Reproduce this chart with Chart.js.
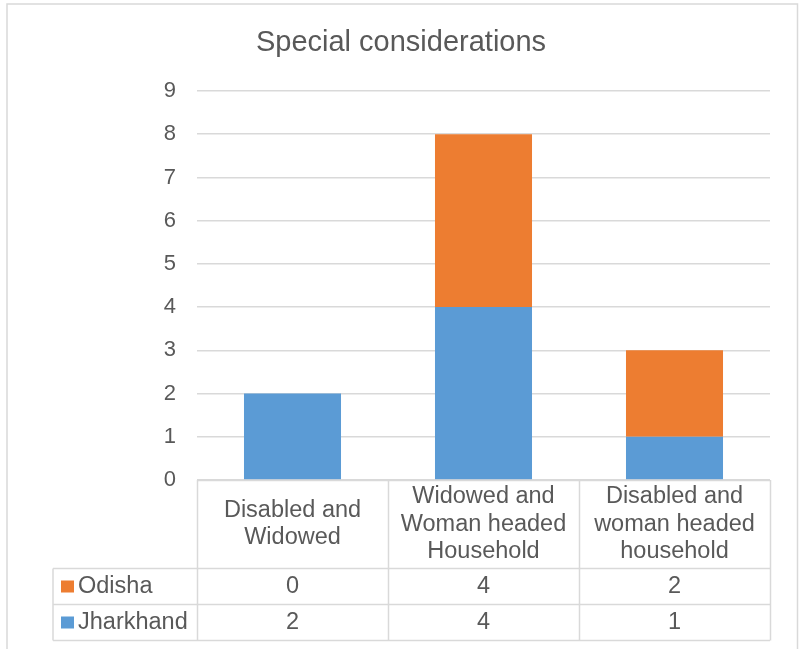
<!DOCTYPE html>
<html>
<head>
<meta charset="utf-8">
<style>
  html, body { margin: 0; padding: 0; background: #ffffff; }
  #wrap { width: 802px; height: 649px; position: relative; }
</style>
<script src="https://cdn.jsdelivr.net/npm/chart.js@4/dist/chart.umd.min.js"></script>
</head>
<body>
<div id="wrap"><canvas id="c" width="802" height="649"></canvas></div>
<script>
// Categories (multi-line headers shown in the data table under the plot)
const categories = [
  ['Disabled and', 'Widowed'],
  ['Widowed and', 'Woman headed', 'Household'],
  ['Disabled and', 'woman headed', 'household']
];
const jharkhand = [2, 4, 1];
const odisha = [0, 4, 2];
const yTicks = [0, 1, 2, 3, 4, 5, 6, 7, 8, 9];

const BLUE = '#5b9bd5';
const ORANGE = '#ed7d31';
const TEXT = '#595959';
const LINE = '#d9d9d9';
const FONT = '"Liberation Sans", Arial, sans-serif';

// Data table drawn below the plot area, aligned with the category scale
const dataTable = {
  id: 'dataTable',
  afterDraw(chart) {
    const ctx = chart.ctx;
    const area = chart.chartArea;
    const xs = chart.scales.x;
    const n = categories.length;
    const colW = (area.right - area.left) / n;
    const tableLeft = 53;
    const headTop = area.bottom;
    const headBottom = 568.5;
    const rowH = 36;
    const rows = [
      { name: 'Odisha', color: ORANGE, values: odisha },
      { name: 'Jharkhand', color: BLUE, values: jharkhand }
    ];
    const tableBottom = headBottom + rowH * rows.length;

    ctx.save();
    ctx.strokeStyle = LINE;
    ctx.lineWidth = 1.5;
    ctx.beginPath();
    // header top
    ctx.moveTo(area.left, headTop + 0.5); ctx.lineTo(area.right, headTop + 0.5);
    // row separators
    for (let r = 0; r <= rows.length; r++) {
      const y = headBottom + r * rowH;
      ctx.moveTo(tableLeft, y); ctx.lineTo(area.right, y);
    }
    // column separators
    for (let i = 0; i <= n; i++) {
      const x = Math.round(area.left + i * colW) + 0.5;
      ctx.moveTo(x, headTop); ctx.lineTo(x, tableBottom);
    }
    ctx.moveTo(tableLeft, headBottom); ctx.lineTo(tableLeft, tableBottom);
    ctx.stroke();

    ctx.fillStyle = TEXT;
    ctx.font = '23.5px ' + FONT;
    ctx.textAlign = 'center';
    ctx.textBaseline = 'middle';
    const lh = 27.5;
    const headMid = (headTop + headBottom) / 2;
    categories.forEach((lines, i) => {
      const cx = xs.getPixelForValue(i);
      const y0 = headMid - (lines.length - 1) * lh / 2;
      lines.forEach((t, k) => ctx.fillText(t, cx, y0 + k * lh));
    });

    rows.forEach((row, r) => {
      const cy = headBottom + r * rowH + rowH / 2;
      row.values.forEach((v, i) => {
        ctx.fillStyle = TEXT;
        ctx.textAlign = 'center';
        ctx.fillText(String(v), xs.getPixelForValue(i), cy);
      });
      ctx.fillStyle = row.color;
      ctx.fillRect(61, cy - 6, 13, 12);
      ctx.fillStyle = TEXT;
      ctx.textAlign = 'left';
      ctx.fillText(row.name, 78, cy);
    });

    // chart frame
    ctx.strokeStyle = LINE;
    ctx.lineWidth = 1.5;
    ctx.beginPath();
    ctx.moveTo(7, 660); ctx.lineTo(7, 4); ctx.lineTo(797.5, 4); ctx.lineTo(797.5, 660);
    ctx.stroke();
    ctx.restore();
  }
};

new Chart(document.getElementById('c'), {
  type: 'bar',
  data: {
    labels: categories,
    datasets: [
      { label: 'Jharkhand', data: jharkhand, backgroundColor: BLUE, borderWidth: 0 },
      { label: 'Odisha', data: odisha, backgroundColor: ORANGE, borderWidth: 0 }
    ]
  },
  options: {
    responsive: false,
    animation: false,
    devicePixelRatio: 1,
    layout: { padding: { left: 32, right: 32, top: 0, bottom: 169 } },
    datasets: { bar: { categoryPercentage: 1, barPercentage: 0.508 } },
    plugins: {
      legend: { display: false },
      tooltip: { enabled: false },
      title: {
        display: true,
        text: 'Special considerations',
        color: TEXT,
        font: { family: FONT, size: 29, weight: 'normal', lineHeight: 1.2 },
        padding: { top: 25.5, bottom: 30.7 }
      }
    },
    scales: {
      x: { display: false, stacked: true },
      y: {
        stacked: true,
        min: 0,
        max: 9,
        afterFit(scale) { scale.width = 165; },
        afterBuildTicks(scale) { scale.ticks = yTicks.map(v => ({ value: v })); },
        border: { display: false },
        grid: { color: LINE, lineWidth: 1.5, drawTicks: false },
        ticks: { color: TEXT, font: { family: FONT, size: 22 }, padding: 21 }
      }
    }
  },
  plugins: [dataTable]
});
</script>
</body>
</html>
